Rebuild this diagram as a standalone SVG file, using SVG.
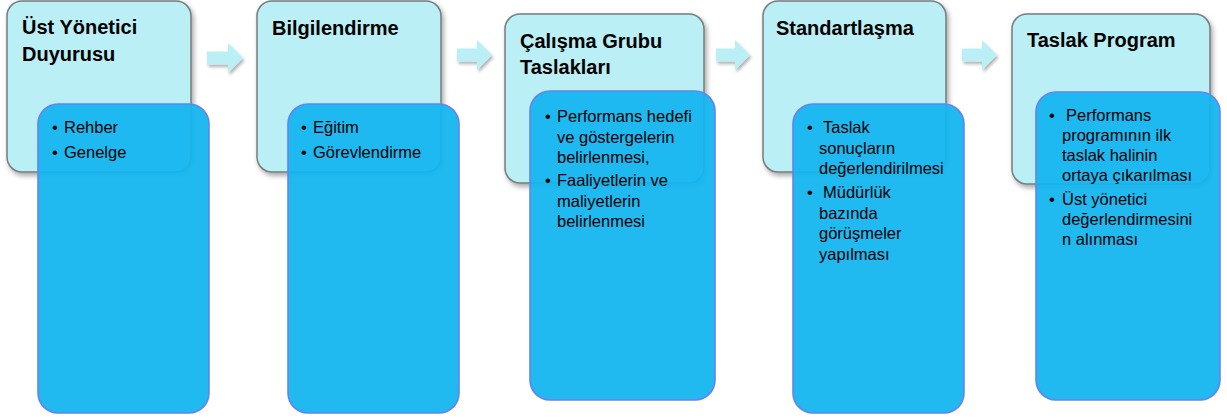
<svg xmlns="http://www.w3.org/2000/svg" width="1227" height="418" viewBox="0 0 1227 418">
<defs>
<filter id="sh" x="-10%" y="-10%" width="130%" height="130%">
<feDropShadow dx="2" dy="3" stdDeviation="2.5" flood-color="#000" flood-opacity="0.35"/>
</filter>
<filter id="ash" x="-20%" y="-20%" width="150%" height="160%">
<feDropShadow dx="1.5" dy="2.5" stdDeviation="1.5" flood-color="#000" flood-opacity="0.3"/>
</filter>
<style>
.top{fill:#b9eff5;stroke:#747d7e;stroke-width:1.5;filter:url(#sh)}
.sub{fill:#14b5ef;fill-opacity:0.95;stroke:#6483f0;stroke-width:1.6}
.arr{fill:#b9eff5;filter:url(#ash)}
.t{font-family:"Liberation Sans",Arial,sans-serif;font-weight:bold;font-size:20px;fill:#000}
.b{font-family:"Liberation Sans",Arial,sans-serif;font-size:16.5px;fill:#000}
</style>
</defs>
<rect width="1227" height="418" fill="#fff"/>
<g id="connectors">
<polygon class="arr" points="207,51.5 228,51.5 228,43 243,58 228,73 228,64.5 207,64.5"/>
<polygon class="arr" points="457,48.5 477,48.5 477,40 492,55 477,70 477,61.5 457,61.5"/>
<polygon class="arr" points="716,48.5 735,48.5 735,40 750,55 735,70 735,61.5 716,61.5"/>
<polygon class="arr" points="962,48.5 982,48.5 982,40 997,55 982,70 982,61.5 962,61.5"/>
</g>
<g id="node1">
<rect class="top" x="7" y="1" width="184" height="171" rx="15"/>
<text class="t"><tspan x="22" y="34">Üst Yönetici</tspan><tspan x="22" y="61">Duyurusu</tspan></text>
<rect class="sub" x="38" y="104" width="171" height="309" rx="20"/>
<text class="b"><tspan x="52" y="133">•</tspan><tspan x="64" y="133">Rehber</tspan><tspan x="52" y="158">•</tspan><tspan x="64" y="158">Genelge</tspan></text>
</g>
<g id="node2">
<rect class="top" x="257" y="1" width="184" height="171" rx="15"/>
<text class="t" x="272" y="35">Bilgilendirme</text>
<rect class="sub" x="288" y="104" width="171" height="309" rx="20"/>
<text class="b"><tspan x="301" y="133">•</tspan><tspan x="313" y="133">Eğitim</tspan><tspan x="301" y="158">•</tspan><tspan x="313" y="158">Görevlendirme</tspan></text>
</g>
<g id="node3">
<rect class="top" x="505" y="14" width="199" height="169" rx="15"/>
<text class="t"><tspan x="520" y="48">Çalışma Grubu</tspan><tspan x="520" y="74">Taslakları</tspan></text>
<rect class="sub" x="530" y="91" width="185" height="309" rx="20"/>
<text class="b"><tspan x="545" y="122">•</tspan><tspan x="557" y="122">Performans hedefi</tspan><tspan x="557" y="142.5">ve göstergelerin</tspan><tspan x="557" y="163">belirlenmesi,</tspan><tspan x="545" y="186">•</tspan><tspan x="557" y="186">Faaliyetlerin ve</tspan><tspan x="557" y="206.5">maliyetlerin</tspan><tspan x="557" y="227">belirlenmesi</tspan></text>
</g>
<g id="node4">
<rect class="top" x="763" y="1" width="183" height="171" rx="15"/>
<text class="t" x="776" y="35">Standartlaşma</text>
<rect class="sub" x="793" y="104" width="171" height="309" rx="20"/>
<text class="b"><tspan x="807" y="133">•</tspan><tspan x="823" y="133">Taslak</tspan><tspan x="819" y="153.5">sonuçların</tspan><tspan x="819" y="174">değerlendirilmesi</tspan><tspan x="807" y="198">•</tspan><tspan x="823" y="198">Müdürlük</tspan><tspan x="819" y="218.5">bazında</tspan><tspan x="819" y="239">görüşmeler</tspan><tspan x="819" y="259.5">yapılması</tspan></text>
</g>
<g id="node5">
<rect class="top" x="1012" y="14" width="198" height="170" rx="15"/>
<text class="t" x="1027" y="47">Taslak Program</text>
<rect class="sub" x="1036" y="92" width="184" height="308" rx="20"/>
<text class="b"><tspan x="1049" y="121">•</tspan><tspan x="1066" y="121">Performans</tspan><tspan x="1062" y="141">programının ilk</tspan><tspan x="1062" y="161">taslak halinin</tspan><tspan x="1062" y="181">ortaya çıkarılması</tspan><tspan x="1049" y="205">•</tspan><tspan x="1062" y="205">Üst yönetici</tspan><tspan x="1062" y="225">değerlendirmesini</tspan><tspan x="1062" y="245">n alınması</tspan></text>
</g>
</svg>
